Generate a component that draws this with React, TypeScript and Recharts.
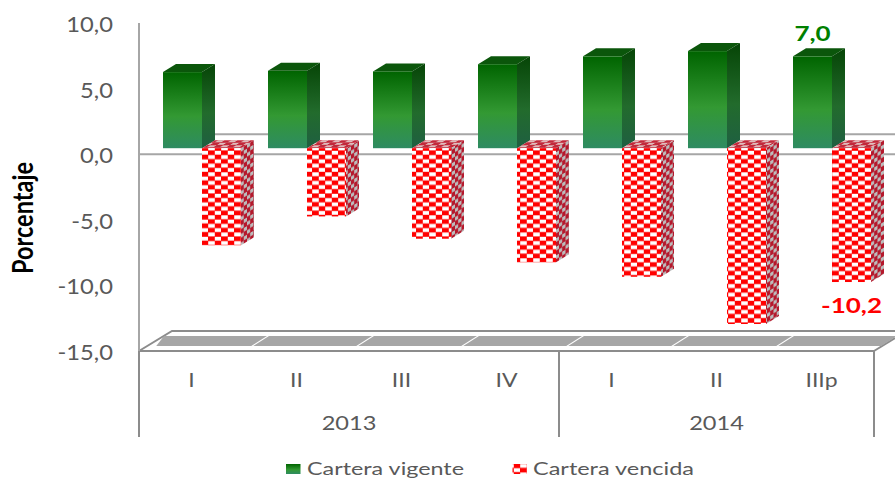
import { BarChart, Bar, XAxis, YAxis, Legend, LabelList, Customized } from 'recharts'

const quarters = ['I', 'II', 'III', 'IV', 'I', 'II', 'IIIp']
const vigente = [5.8, 5.9, 5.85, 6.4, 7.0, 7.4, 7.0]
const vencida = [-7.4, -5.2, -6.9, -8.7, -9.8, -13.4, -10.2]
const yTicks = [10, 5, 0, -5, -10, -15]
const yearGroups = [
    { label: '2013', count: 4 },
    { label: '2014', count: 3 },
]
const labelledIndex = 6

const data = quarters.map((quarter, i) => ({ quarter, vigente: vigente[i], vencida: vencida[i] }))

// plot geometry
const WIDTH = 895
const HEIGHT = 478
const LEFT = 139
const RIGHT = 874
const TOP = 23
const FLOOR = 351
const BAND = (RIGHT - LEFT) / quarters.length
const ZERO = TOP + ((FLOOR - TOP) * 10) / 25
// back wall sits this far behind the axis plane, bars a bit less
const WALL_DX = 33
const WALL_DY = 20
const BAR_DX = 10
const BAR_DY = 6
const SIDE_DX = 13
const SIDE_DY = 8

const FONT = 'Lato, sans-serif'
const TEXT = '#595959'
const LINE = '#a6a6a6'
const EDGE = '#8c8c8c'

const comma = (v: number) => v.toFixed(1).replace('.', ',')

function Defs() {
    return (
        <defs>
            <linearGradient id="greenFront" x1="0" y1="0" x2="0" y2="1">
                <stop offset="0%" stopColor="#006400" />
                <stop offset="58%" stopColor="#339933" />
                <stop offset="100%" stopColor="#2e8b62" />
            </linearGradient>
            <linearGradient id="greenSide" x1="0" y1="0" x2="0" y2="1">
                <stop offset="0%" stopColor="#064506" />
                <stop offset="58%" stopColor="#226b2c" />
                <stop offset="100%" stopColor="#1f5f42" />
            </linearGradient>
            <pattern id="redCheck" width="13" height="8.6" patternUnits="userSpaceOnUse">
                <rect width="13" height="8.6" fill="#ff0000" />
                <rect x="0.2" y="0.3" width="6.6" height="3.9" fill="#ffffff" />
                <rect x="6.8" y="4.6" width="6.2" height="3.8" fill="#ffffff" />
            </pattern>
            <pattern id="redCheckSide" width="6.5" height="8.6" patternUnits="userSpaceOnUse" patternTransform="skewY(-31)">
                <rect width="6.5" height="8.6" fill="#b5182c" />
                <rect x="0" y="0.4" width="3.2" height="3.7" fill="#bdbdbd" />
                <rect x="3.2" y="4.7" width="3.3" height="3.7" fill="#bdbdbd" />
            </pattern>
            <pattern id="redCheckTop" width="13" height="5" patternUnits="userSpaceOnUse" patternTransform="skewX(-58)">
                <rect width="13" height="5" fill="#c2283a" />
                <rect x="0.5" y="0.3" width="6.5" height="2" fill="#e0bcbc" />
                <rect x="7" y="2.8" width="6" height="2" fill="#e0bcbc" />
            </pattern>
        </defs>
    )
}

function Box3D({ x, y, width, height, front, side, top }: any) {
    const t = Math.min(y, y + height) - BAR_DY
    const h = Math.abs(height)
    const l = x + BAR_DX
    const r = l + width
    return (
        <g>
            <polygon
                points={`${l},${t} ${l + SIDE_DX},${t - SIDE_DY} ${r + SIDE_DX},${t - SIDE_DY} ${r},${t}`}
                fill={top}
            />
            <polygon
                points={`${r},${t} ${r + SIDE_DX},${t - SIDE_DY} ${r + SIDE_DX},${t + h - SIDE_DY} ${r},${t + h}`}
                fill={side}
            />
            <rect x={l} y={t} width={width} height={h} fill={front} />
        </g>
    )
}

function GreenBar(props: any) {
    return <Box3D {...props} front="url(#greenFront)" side="url(#greenSide)" top="#0b560b" />
}

function RedBar(props: any) {
    return <Box3D {...props} front="url(#redCheck)" side="url(#redCheckSide)" top="url(#redCheckTop)" />
}

// stretched text, the chart's type is wider than the stock font
function WideText({ x, y, sx = 1.15, anchor = 'middle', size = 20, weight = 400, fill = TEXT, children }: any) {
    return (
        <text
            transform={`translate(${x},${y}) scale(${sx},1)`}
            textAnchor={anchor}
            fontFamily={FONT}
            fontSize={size}
            fontWeight={weight}
            fill={fill}
        >
            {children}
        </text>
    )
}

function YTick({ y, payload }: any) {
    return (
        <WideText x={113} y={y + 9} anchor="end" size={21} sx={1.13}>
            {comma(payload.value)}
        </WideText>
    )
}

function QuarterTick({ x, payload }: any) {
    return <WideText x={x} y={387} sx={1.15}>{payload.value}</WideText>
}

function YearTick({ x, index }: any) {
    let start = 0
    for (const group of yearGroups) {
        if (index === start) {
            const cx = x - BAND / 2 + (group.count * BAND) / 2
            return <WideText x={cx} y={430} sx={1.18}>{group.label}</WideText>
        }
        start += group.count
    }
    return null
}

function ValueLabel({ x, y, width, height, value, index, fill, dy }: any) {
    if (index !== labelledIndex) return null
    const cx = x + BAR_DX + width / 2
    const bottom = Math.max(y, y + height)
    const top = Math.min(y, y + height)
    const base = value < 0 ? bottom - BAR_DY + dy : top - BAR_DY + dy
    return (
        <WideText x={cx} y={base} size={20} weight={700} fill={fill} sx={1.3}>
            {comma(value)}
        </WideText>
    )
}

// walls, floor and the level separators of the category axis
function Frame() {
    const floorDx = (FLOOR - 346) * (WALL_DX / WALL_DY)
    const separators = [LEFT]
    let pos = LEFT
    for (const group of yearGroups) {
        pos += group.count * BAND
        separators.push(pos)
    }
    return (
        <g>
            <Defs />
            <line x1={LEFT + WALL_DX} y1={ZERO - WALL_DY} x2={WIDTH} y2={ZERO - WALL_DY} stroke={LINE} strokeWidth={2} />
            <line x1={LEFT} y1={ZERO} x2={WIDTH} y2={ZERO} stroke={LINE} strokeWidth={2} />
            <polyline
                points={`${LEFT},${FLOOR} ${LEFT + WALL_DX},${FLOOR - WALL_DY} ${WIDTH},${FLOOR - WALL_DY}`}
                fill="none"
                stroke={EDGE}
                strokeWidth={2}
            />
            <line x1={RIGHT} y1={FLOOR} x2={WIDTH} y2={FLOOR - 13} stroke={EDGE} strokeWidth={2} />
            {quarters.map((_, i) => {
                const a = LEFT + i * BAND + 1
                const b = a + BAND - 2
                const bottomA = i === 0 ? a + floorDx + 8 : a + floorDx
                return (
                    <polygon
                        key={i}
                        points={`${bottomA},346 ${a + 24},336 ${b + 24},336 ${b + floorDx},346`}
                        fill="#a6a6a6"
                    />
                )
            })}
            {separators.map((sx) => (
                <line key={sx} x1={sx} y1={FLOOR} x2={sx} y2={437} stroke={EDGE} strokeWidth={2} />
            ))}
        </g>
    )
}

const legendSlots = [
    { swatch: 286, text: 307, length: 157 },
    { swatch: 512.5, text: 533, length: 161 },
]

function LegendRow({ payload }: any) {
    return (
        <svg width={WIDTH} height={23} style={{ display: 'block', overflow: 'visible' }}>
            {(payload || []).map((item: any, i: number) => (
                <g key={item.value}>
                    <rect x={legendSlots[i].swatch} y={9} width={14.5} height={10} fill={item.color} />
                    <text
                        x={legendSlots[i].text}
                        y={19.5}
                        fontFamily={FONT}
                        fontSize={18}
                        fill={TEXT}
                        textLength={legendSlots[i].length}
                        lengthAdjust="spacingAndGlyphs"
                    >
                        {item.value}
                    </text>
                </g>
            ))}
        </svg>
    )
}

export default function App() {
    return (
        <div style={{ position: 'absolute', left: 0, top: 0, width: WIDTH, height: HEIGHT, overflow: 'hidden', background: '#ffffff' }}>
            <BarChart
                width={WIDTH}
                height={HEIGHT}
                data={data}
                barCategoryGap={14}
                barGap={0}
                margin={{ top: TOP, right: WIDTH - RIGHT, left: 39, bottom: 37 }}
            >
                <Customized component={Frame} />
                <XAxis
                    dataKey="quarter"
                    axisLine={{ stroke: EDGE, strokeWidth: 2 }}
                    tickLine={false}
                    interval={0}
                    height={45}
                    tick={QuarterTick}
                />
                <XAxis
                    xAxisId="year"
                    dataKey="quarter"
                    axisLine={false}
                    tickLine={false}
                    interval={0}
                    height={45}
                    tick={YearTick}
                />
                <YAxis
                    width={100}
                    domain={[-15, 10]}
                    ticks={yTicks}
                    interval={0}
                    axisLine={{ stroke: LINE, strokeWidth: 2 }}
                    tickLine={false}
                    tick={YTick}
                />
                <Legend
                    content={LegendRow}
                    itemSorter={null as any}
                    wrapperStyle={{ position: 'absolute', left: 0, top: 455, width: WIDTH, height: 0 }}
                />
                <Bar
                    name="Cartera vigente"
                    dataKey="vigente"
                    fill="url(#greenFront)"
                    shape={GreenBar}
                    isAnimationActive={false}
                >
                    <LabelList
                        dataKey="vigente"
                        content={(p: any) => <ValueLabel {...p} fill="#008000" dy={-15} />}
                    />
                </Bar>
                <Bar
                    name="Cartera vencida"
                    dataKey="vencida"
                    fill="url(#redCheck)"
                    shape={RedBar}
                    isAnimationActive={false}
                >
                    <LabelList
                        dataKey="vencida"
                        content={(p: any) => <ValueLabel {...p} fill="#ff0000" dy={31} />}
                    />
                </Bar>
                <text
                    transform="translate(33,218) rotate(-90) scale(0.84,1)"
                    textAnchor="middle"
                    fontFamily={FONT}
                    fontSize={28}
                    fontWeight={700}
                    fill="#000000"
                >
                    Porcentaje
                </text>
            </BarChart>
        </div>
    )
}
